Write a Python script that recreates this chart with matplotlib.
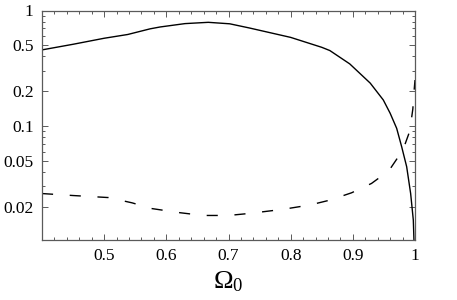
import numpy as np
import matplotlib as mpl
mpl.use('Agg')
import matplotlib.pyplot as plt
from matplotlib.ticker import FixedLocator, MultipleLocator, NullFormatter, FuncFormatter

plt.rcParams['font.family'] = ['Liberation Serif', 'DejaVu Serif']
plt.rcParams['mathtext.fontset'] = 'custom'
plt.rcParams['mathtext.rm'] = 'Liberation Serif'
plt.rcParams['mathtext.it'] = 'Liberation Serif:italic'

# solid curve
omega_solid = [0.40, 0.45, 0.50, 0.538, 0.574, 0.59, 0.63, 0.6675, 0.702, 0.734, 0.80,
               0.85, 0.863, 0.895, 0.928, 0.949, 0.960, 0.9705, 0.9786, 0.9866,
               0.993, 0.9973, 0.9984]
frac_solid = [0.456, 0.51, 0.575, 0.62, 0.694, 0.72, 0.77, 0.79, 0.767, 0.705, 0.585,
              0.48, 0.45, 0.345, 0.235, 0.168, 0.129, 0.0955, 0.066, 0.0444,
              0.026, 0.0153, 0.0100]

# dashed curve
omega_dash = [0.40, 0.45, 0.507, 0.545, 0.576, 0.62, 0.659, 0.70, 0.734, 0.788,
              0.831, 0.863, 0.898, 0.930, 0.958, 0.9806, 0.9915, 0.9965, 0.9985, 1.0]
frac_dash = [0.026, 0.025, 0.024, 0.0216, 0.0193, 0.0178, 0.0168, 0.0168, 0.0175, 0.019,
             0.0207, 0.0228, 0.0264, 0.0318, 0.041, 0.062, 0.090, 0.14, 0.20, 0.25]

xticks = [0.5, 0.6, 0.7, 0.8, 0.9, 1.0]
yticks = [0.02, 0.05, 0.1, 0.2, 0.5, 1.0]
ylabels = ['0.02', '0.05', '0.1', '0.2', '0.5', '1']

fig = plt.figure(figsize=(4.57, 3.0), dpi=100)
ax = fig.add_axes([42 / 457, 1 - 240 / 300, 373 / 457, 229.5 / 300])

ax.plot(omega_solid, frac_solid, color='black', lw=1.0)
ax.plot(omega_dash, frac_dash, color='black', lw=1.0, dashes=(8, 12))

ax.set_yscale('log')
ax.set_xlim(0.4, 1.0)
ax.set_ylim(0.0103, 1.0)

ax.xaxis.set_major_locator(FixedLocator(xticks))
ax.xaxis.set_major_formatter(FuncFormatter(lambda v, p: '1' if abs(v - 1) < 1e-9 else '%.1f' % v))
ax.xaxis.set_minor_locator(MultipleLocator(0.02))
ax.yaxis.set_major_locator(FixedLocator(yticks))
ax.set_yticklabels(ylabels)
minor_y = [m * 10.0 ** e for e in (-2, -1) for m in range(1, 10)]
minor_y = [v for v in minor_y if v not in yticks]
ax.yaxis.set_minor_locator(FixedLocator(minor_y))
ax.yaxis.set_minor_formatter(NullFormatter())

frame = '#5a5a5a'
for s in ax.spines.values():
    s.set_color(frame)
    s.set_linewidth(0.9)
ax.tick_params(which='both', direction='in', top=True, right=True, color=frame,
               labelsize=12.5, labelcolor='black', width=0.7)
ax.tick_params(which='major', length=4, pad=6)
ax.tick_params(which='minor', length=2)

ax.set_xlabel(r'$\mathrm{\Omega_0}$', fontsize=19, labelpad=4)

fig.savefig('out.png', dpi=100)
